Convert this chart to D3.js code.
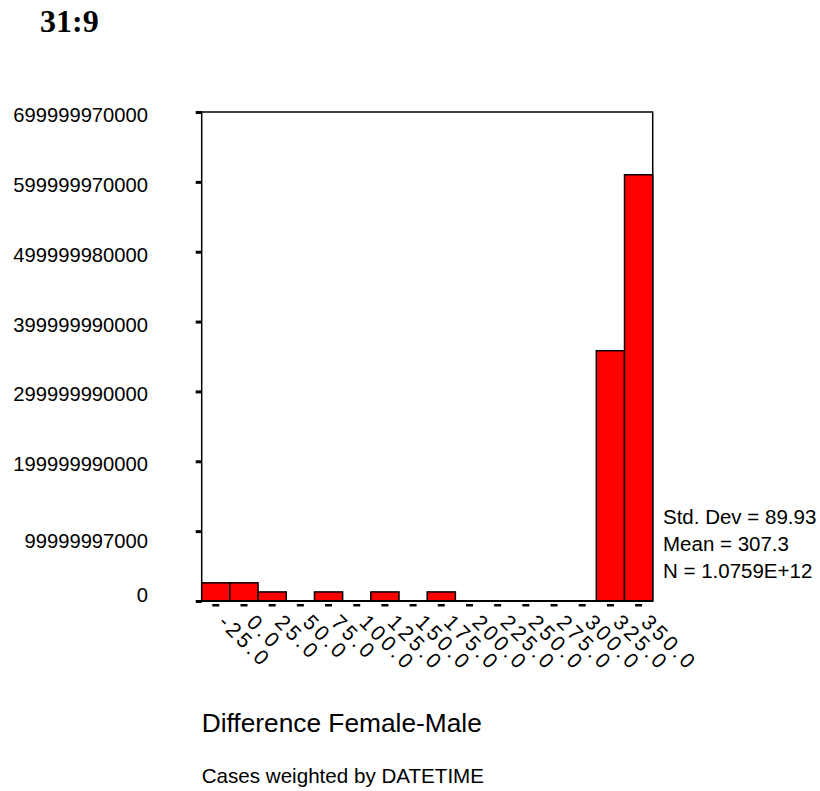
<!DOCTYPE html>
<html>
<head>
<meta charset="utf-8">
<script src="https://cdn.jsdelivr.net/npm/d3@7"></script>
<style>
  html, body { margin: 0; padding: 0; background: #fff; }
  svg text { font-family: "Liberation Sans", Arial, sans-serif; fill: #000; }
</style>
</head>
<body>
<svg id="chart" width="820" height="791"></svg>
<script>
// Histogram bins (bin midpoints) and weighted counts
const binLabels = ["-25.0", "0.0", "25.0", "50.0", "75.0", "100.0", "125.0", "150.0",
                   "175.0", "200.0", "225.0", "250.0", "275.0", "300.0", "325.0", "350.0"];
const counts = [26000000000, 26000000000, 13000000000, 0, 13000000000, 0, 13000000000, 0,
                13000000000, 0, 0, 0, 0, 0, 358300000000, 610200000000];

// Vertical axis ticks as printed
const yTickValues = [0, 99999997000, 199999990000, 299999990000, 399999990000,
                     499999980000, 599999970000, 699999970000];
const yTickLabels = ["0", "99999997000", "199999990000", "299999990000", "399999990000",
                     "499999980000", "599999970000", "699999970000"];

// Summary statistics
const statLines = ["Std. Dev = 89.93", "Mean = 307.3", "N = 1.0759E+12"];

const titleText = "31:9";
const xTitle = "Difference Female-Male";
const footnote = "Cases weighted by DATETIME";

const svg = d3.select("#chart");

const plot = { left: 201.7, right: 652.7, top: 112, bottom: 601 };

const x = d3.scaleBand()
  .domain(binLabels)
  .range([plot.left, plot.right])
  .padding(0);

const y = d3.scaleLinear()
  .domain([0, 700000000000])
  .range([plot.bottom, plot.top]);

// Title
svg.append("text")
  .attr("x", 40)
  .attr("y", 32.3)
  .style("font-family", "'Liberation Serif', 'Times New Roman', serif")
  .style("font-weight", "bold")
  .style("font-size", "32px")
  .text(titleText);

// Plot frame
svg.append("rect")
  .attr("x", plot.left)
  .attr("y", plot.top)
  .attr("width", plot.right - plot.left)
  .attr("height", plot.bottom - plot.top)
  .attr("fill", "none")
  .attr("stroke", "#000")
  .attr("stroke-width", 1.5);

// Bars
svg.append("g")
  .selectAll("rect")
  .data(binLabels.map((b, i) => ({ bin: b, value: counts[i] })).filter(d => d.value > 0))
  .join("rect")
  .attr("x", d => x(d.bin))
  .attr("y", d => y(d.value))
  .attr("width", x.bandwidth())
  .attr("height", d => y(0) - y(d.value))
  .attr("fill", "#ff0000")
  .attr("stroke", "#000")
  .attr("stroke-width", 1.5);

// Baseline
svg.append("line")
  .attr("x1", plot.left)
  .attr("x2", plot.right)
  .attr("y1", y(0))
  .attr("y2", y(0))
  .attr("stroke", "#000")
  .attr("stroke-width", 2);

// Y axis
const yLabelMap = new Map(yTickValues.map((v, i) => [v, yTickLabels[i]]));
const yAxis = svg.append("g")
  .attr("transform", `translate(${plot.left},0)`)
  .call(d3.axisLeft(y).tickValues(yTickValues).tickSize(6).tickPadding(0)
    .tickFormat(d => yLabelMap.get(d)));
yAxis.select(".domain").remove();
yAxis.selectAll(".tick line")
  .attr("stroke", "#000")
  .attr("stroke-width", 3);
yAxis.selectAll(".tick text")
  .attr("x", -53.7)
  .attr("dy", (d, i) => i === 0 ? 0 : (i === 1 ? 16.6 : 9.5))
  .attr("text-anchor", "end")
  .style("font-size", "20.2px");

// X axis (tick dashes and rotated labels)
const xAxis = svg.append("g")
  .attr("transform", `translate(0,${y(0)})`)
  .call(d3.axisBottom(x).tickSizeOuter(0));
xAxis.select(".domain").remove();
xAxis.selectAll(".tick line")
  .attr("y1", 3)
  .attr("y2", 5.5)
  .attr("stroke", "#000")
  .attr("stroke-width", 7);
xAxis.selectAll(".tick text")
  .attr("x", 0)
  .attr("y", 0)
  .attr("dy", 0)
  .attr("text-anchor", "start")
  .attr("transform", "translate(1.5,22.5) rotate(45)")
  .style("font-size", "21px")
  .style("letter-spacing", "3.2px");

// Statistics block
svg.append("g")
  .selectAll("text")
  .data(statLines)
  .join("text")
  .attr("x", 663)
  .attr("y", (d, i) => 524 + i * 27)
  .style("font-size", "20.5px")
  .text(d => d);

// Axis title and footnote
svg.append("text")
  .attr("x", plot.left)
  .attr("y", 731.7)
  .style("font-size", "26.3px")
  .text(xTitle);

svg.append("text")
  .attr("x", plot.left)
  .attr("y", 783.3)
  .style("font-size", "20.6px")
  .text(footnote);
</script>
</body>
</html>
